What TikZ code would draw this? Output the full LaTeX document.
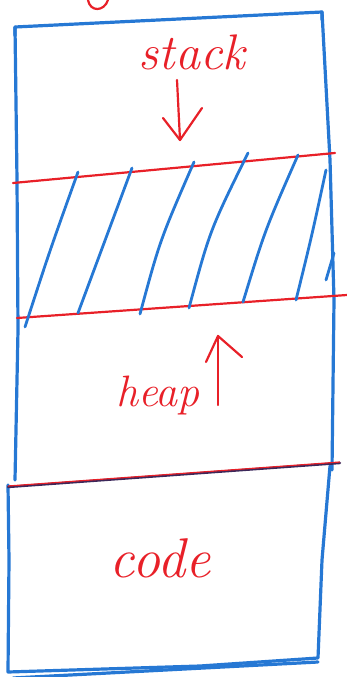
\documentclass[tikz,border=0pt]{standalone}
\usetikzlibrary{arrows.meta}
\definecolor{pen}{RGB}{38,120,212}
\definecolor{marker}{RGB}{232,32,40}
\definecolor{darkpen}{RGB}{60,40,90}
\tikzset{
  bluepen/.style={draw=pen,line width=3.2pt,line cap=round,line join=round},
  redpen/.style={draw=marker,line width=2.2pt,line cap=round,line join=round},
  hatch/.style={draw=pen,line width=2.8pt,line cap=round},
  label/.style={text=marker,inner sep=0pt}
}
\begin{document}
\begin{tikzpicture}[x=1pt,y=-1pt]
\useasboundingbox (0,0) rectangle (347,677);
% top cut-off red stroke
\draw[redpen] (88,0) .. controls (90,12) and (104,12) .. (108,0);
% outer frame (upper part)
\draw[bluepen] (15,36) -- (15,27) -- (322,12) -- (322,20);
\draw[bluepen] (15,27) -- (17,180) -- (18,330) -- (15,480);
\draw[bluepen] (322,12) -- (330,160) -- (334,300) -- (332,470);
% code box
\draw[bluepen] (8,485) -- (9,560) -- (8,672) -- (200,666) -- (318,658) -- (322,560) -- (330,466);
\draw[bluepen] (13,678) -- (318,662);
% red boundary lines
\draw[redpen] (13,183) -- (335,153);
\draw[redpen] (17,318) -- (347,295);
\draw[draw=darkpen,line width=2.4pt,line cap=round] (8,487) -- (340,463);
\draw[draw=marker,line width=1.2pt] (8,486) -- (340,462);
% hatching
\draw[hatch] (25,327) .. controls (50,250) .. (78,172);
\draw[hatch] (78,313) .. controls (105,240) .. (132,168);
\draw[hatch] (140,314) .. controls (160,240) .. (194,162);
\draw[hatch] (189,308) .. controls (210,230) .. (248,153);
\draw[hatch] (243,302) .. controls (265,230) .. (298,155);
\draw[hatch] (296,300) .. controls (312,235) .. (326,170);
\draw[hatch] (326,280) -- (334,253);
% labels
\node[label,font=\fontsize{50}{50}\selectfont\itshape] (stack) at (192,52) {stack};
\node[label,font=\fontsize{44}{44}\selectfont\itshape] (heap) at (158,395) {heap};
\node[label,font=\fontsize{56}{56}\selectfont\itshape] (code) at (160,558) {code};
% arrows
\coordinate (stackstart) at (177,80);
\coordinate (stackend) at (180,140);
\coordinate (heapbase) at (218,405);
\coordinate (heaptop) at (218,336);
\draw[redpen] (stackstart) -- (stackend);
\draw[redpen] (163,118) -- (stackend) -- (202,108);
\draw[redpen] (heapbase) -- (heaptop);
\draw[redpen] (206,362) -- (heaptop) -- (242,357);
\end{tikzpicture}
\end{document}
